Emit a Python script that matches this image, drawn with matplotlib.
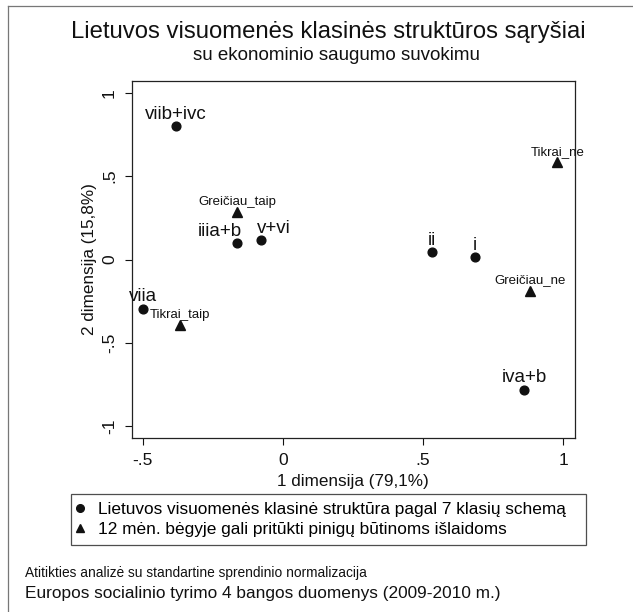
import matplotlib
matplotlib.use("Agg")
import matplotlib.pyplot as plt
from matplotlib.lines import Line2D
from matplotlib.ticker import FuncFormatter

plt.rcParams["font.family"] = ["Liberation Sans", "DejaVu Sans"]

# class categories (circles)
class_labels = ["viib+ivc", "iiia+b", "v+vi", "viia", "ii", "i", "iva+b"]
class_x = [-0.381, -0.163, -0.077, -0.499, 0.533, 0.684, 0.861]
class_y = [0.798, 0.096, 0.116, -0.295, 0.046, 0.016, -0.780]

# economic security categories (triangles)
sec_labels = ["Greičiau_taip", "Tikrai_taip", "Tikrai_ne", "Greičiau_ne"]
sec_x = [-0.163, -0.367, 0.979, 0.880]
sec_y = [0.283, -0.395, 0.583, -0.186]

x_ticks = [-0.5, 0, 0.5, 1]
y_ticks = [-1, -0.5, 0, 0.5, 1]

# small horizontal nudges for overlapping labels (pixels)
label_dx = {"iiia+b": -17, "v+vi": 13}

W, H = 633, 612
fig = plt.figure(figsize=(W / 100, H / 100), dpi=100)
ax = fig.add_axes([131.7 / W, 1 - 438 / H, (575 - 131.7) / W, (438 - 81) / H])
ax.set_xlim(-0.539, 1.042)
ax.set_ylim(-1.07, 1.07)

ink = "#111111"
ax.plot(class_x, class_y, "o", color=ink, ms=6.3, ls="none")
ax.plot(sec_x, sec_y, "^", color=ink, ms=7, ls="none")

for lab, x, y in zip(class_labels, class_x, class_y):
    ax.annotate(lab, (x, y), xytext=(label_dx.get(lab, 0) * 0.72, 5.2),
                textcoords="offset points", ha="center", va="baseline",
                fontsize=13.5, color=ink)
for lab, x, y in zip(sec_labels, sec_x, sec_y):
    ax.annotate(lab, (x, y), xytext=(0, 5.2), textcoords="offset points",
                ha="center", va="baseline", fontsize=9.5, color=ink)


def fmt(v, pos):
    s = "%g" % v
    return s.replace("0.", ".")


ax.set_xticks(x_ticks)
ax.set_yticks(y_ticks)
ax.xaxis.set_major_formatter(FuncFormatter(fmt))
ax.yaxis.set_major_formatter(FuncFormatter(fmt))
ax.tick_params(direction="out", length=5, width=0.8, pad=5.5, labelsize=12.5,
               colors=ink)
ax.tick_params(axis="y", labelrotation=90)
for t in ax.get_yticklabels():
    t.set_va("center")
for sp in ax.spines.values():
    sp.set_linewidth(0.9)
    sp.set_color("#222222")

ax.set_xlabel("1 dimensija (79,1%)", fontsize=12.3, color=ink)
ax.xaxis.set_label_coords(0.5, -0.101)
ax.set_ylabel("2 dimensija (15,8%)", fontsize=12.3, color=ink)
ax.yaxis.set_label_coords(-0.078, 0.5)

fig.text(328.5 / W, 1 - 38 / H, "Lietuvos visuomenės klasinės struktūros sąryšiai",
         ha="center", va="baseline", fontsize=17.2, color=ink)
fig.text(336.5 / W, 1 - 60 / H, "su ekonominio saugumo suvokimu",
         ha="center", va="baseline", fontsize=13.5, color=ink)

handles = [
    Line2D([], [], marker="o", color=ink, ls="none", ms=5.5),
    Line2D([], [], marker="^", color=ink, ls="none", ms=6),
]
leg_labels = ["Lietuvos visuomenės klasinė struktūra pagal 7 klasių schemą",
              "12 mėn. bėgyje gali pritūkti pinigų būtinoms išlaidoms"]
leg = fig.legend(handles, leg_labels, loc="upper left",
                 bbox_to_anchor=(71 / W, 1 - 551 / H, 515 / W, 57 / H),
                 mode="expand", borderaxespad=0, fontsize=12.4, frameon=True,
                 fancybox=False, handlelength=0.2, handletextpad=0.9,
                 borderpad=0.45, labelspacing=0.3)
leg.get_frame().set_edgecolor("#222222")
leg.get_frame().set_linewidth(0.9)

fig.text(25 / W, 1 - 577 / H,
         "Atitikties analizė su standartine sprendinio normalizacija",
         ha="left", va="baseline", fontsize=9.9, color=ink)
fig.text(25 / W, 1 - 598 / H,
         "Europos socialinio tyrimo 4 bangos duomenys (2009-2010 m.)",
         ha="left", va="baseline", fontsize=12.4, color=ink)

# outer graph frame (only top and left edges visible)
fig.add_artist(Line2D([8 / W, 8 / W], [0, 1 - 6 / H], color="#777777", lw=0.9))
fig.add_artist(Line2D([8 / W, 1], [1 - 6 / H, 1 - 6 / H], color="#777777", lw=0.9))

fig.savefig("out.png", dpi=100)
